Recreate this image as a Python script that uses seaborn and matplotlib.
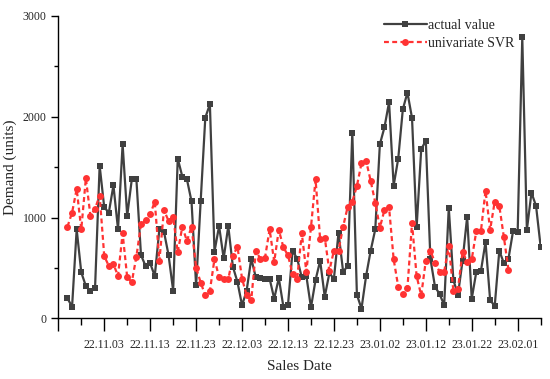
import numpy as np
import pandas as pd
import matplotlib
matplotlib.use("Agg")
import matplotlib.pyplot as plt
import seaborn as sns

# ── Data ──────────────────────────────────────────────────────────────────────
actual_value = [
    198, 116, 883, 456, 321, 268, 301, 1515, 1101, 1049,
    1320, 883, 1727, 1016, 1379, 1379, 628, 519, 546, 420,
    883, 860, 628, 275, 1585, 1406, 1379, 1161, 327, 1168,
    1991, 2124, 662, 916, 595, 916, 513, 361, 129, 275,
    592, 407, 400, 394, 394, 195, 400, 116, 132, 672,
    592, 407, 420, 109, 380, 572, 215, 447, 394, 850,
    463, 519, 1843, 235, 96, 420, 672, 883, 1727, 1895,
    2144, 1317, 1585, 2074, 2240, 1988, 903, 1677, 1763, 592,
    314, 241, 132, 1098, 380, 235, 572, 1009, 195, 463,
    470, 758, 182, 122, 672, 546, 592, 867, 860, 2789,
    877, 1247, 1115, 711,
]
svr_pred = [
    910, 1049, 1283, 883, 1389, 1016, 1088, 1217, 619, 519,
    539, 420, 844, 407, 361, 612, 933, 976, 1032, 1158,
    569, 1075, 966, 1009, 655, 910, 767, 910, 503, 354,
    228, 275, 589, 407, 394, 387, 619, 711, 394, 228,
    182, 665, 592, 602, 883, 562, 877, 705, 625, 440,
    394, 844, 460, 903, 1379, 784, 801, 473, 672, 672,
    910, 1108, 1158, 1313, 1538, 1565, 1363, 1148, 900, 1075,
    1102, 586, 314, 238, 301, 943, 420, 228, 572, 672,
    552, 463, 463, 721, 275, 294, 658, 562, 586, 867,
    867, 1267, 877, 1158, 1115, 804, 480,
]
dates_actual = pd.date_range("2022-10-26", periods=len(actual_value), freq="D")
dates_svr = pd.date_range("2022-10-26", periods=len(svr_pred), freq="D")

major_dates = pd.date_range("2022-10-24", "2023-02-01", freq="10D")
minor_dates = pd.date_range("2022-10-29", "2023-02-06", freq="10D")

# ── Style ─────────────────────────────────────────────────────────────────────
sns.set_theme(style="ticks")
plt.rcParams["font.family"] = ["Liberation Serif", "DejaVu Serif"]

fig = plt.figure(figsize=(5.5, 3.79), dpi=100)
ax = fig.add_axes([0.106, 0.160, 0.877, 0.798])

sns.lineplot(x=dates_actual, y=actual_value, ax=ax, color="#404040",
             linewidth=1.6, marker="s", markersize=4.5, markeredgewidth=0,
             label="actual value")
sns.lineplot(x=dates_svr, y=svr_pred, ax=ax, color="#ff3333",
             linewidth=1.6, dashes=(2.2, 1.5), marker="o", markersize=5,
             markeredgewidth=0, label="univariate SVR")

ax.set_xlim(pd.Timestamp("2022-10-24"), pd.Timestamp("2023-02-06"))
ax.set_ylim(0, 3000)
ax.set_yticks([0, 1000, 2000, 3000])
ax.set_yticks([500, 1500, 2500], minor=True)

ax.set_xticks(major_dates)
ax.set_xticklabels([""] + [d.strftime("%y.%m.%d") for d in major_dates[1:]])
ax.set_xticks(minor_dates, minor=True)

ax.tick_params(axis="x", which="major", length=9, width=1, labelsize=8.5,
               pad=6, color="black")
ax.tick_params(axis="x", which="minor", length=5, width=1, color="black")
ax.tick_params(axis="y", which="major", length=5, width=1, labelsize=8.5,
               color="black")
ax.tick_params(axis="y", which="minor", length=3, width=1, color="black")

for side in ["top", "right"]:
    ax.spines[side].set_visible(False)
for side in ["left", "bottom"]:
    ax.spines[side].set_color("black")
    ax.spines[side].set_linewidth(1)

ax.set_xlabel("Sales Date", fontsize=11, labelpad=6)
ax.set_ylabel("Demand (units)", fontsize=11, labelpad=4)

ax.legend(loc="upper right", bbox_to_anchor=(0.972, 1.03), frameon=False,
          fontsize=10, handlelength=3.1, handletextpad=0.1, labelspacing=0.35)

fig.savefig("out.png", dpi=100)
plt.close(fig)
